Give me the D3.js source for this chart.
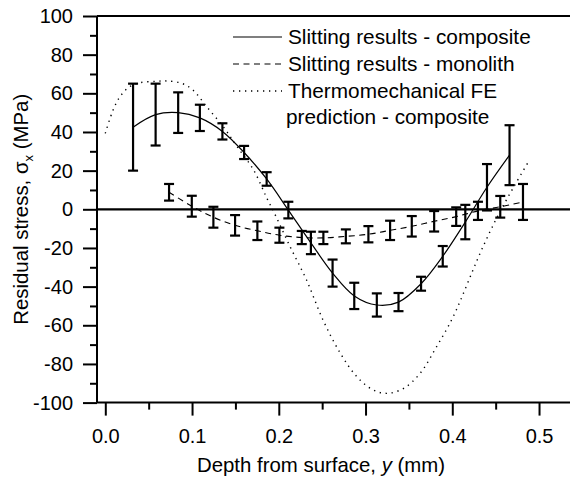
<!DOCTYPE html>
<html>
<head>
<meta charset="utf-8">
<script src="https://cdn.jsdelivr.net/npm/d3@7"></script>
<style>
  html, body { margin: 0; padding: 0; background: #fff; }
  svg { display: block; }
  text { font-family: "Liberation Sans", Arial, sans-serif; fill: #000; }
</style>
</head>
<body>
<svg id="chart" width="570" height="481"></svg>
<script>
// ---- Data ----
const compositeDepth = [0.032, 0.058, 0.084, 0.109, 0.135, 0.160, 0.186, 0.211, 0.237, 0.262, 0.287, 0.313, 0.338, 0.364, 0.389, 0.415, 0.440, 0.466];
const compositeStress = [42.5, 49, 50, 47.3, 40.3, 29.4, 15.7, -0.4, -17.4, -33, -44.8, -49.5, -48, -38.5, -24.3, -6.6, 11.4, 28];
const compositeError = [22.5, 16, 10.5, 6.8, 4.2, 3.4, 3.5, 4.3, 5.8, 7, 6.8, 6, 4.7, 3.6, 5.3, 8.9, 12, 15.5];

const monolithDepth = [0.0735, 0.0997, 0.1246, 0.1496, 0.1753, 0.2007, 0.2265, 0.2514, 0.2773, 0.3033, 0.3283, 0.3533, 0.3791, 0.4045, 0.4296, 0.4553, 0.4815];
const monolithStress = [8.8, 1.6, -4.1, -8.3, -11.1, -13.4, -14.6, -14.8, -14, -12.9, -10.9, -8.8, -6.2, -3.8, -0.8, 1.3, 3.8];
const monolithError = [4.3, 5.4, 5.4, 5.3, 4.8, 3.9, 3.4, 3.2, 3.6, 4.2, 5, 5.3, 5.3, 4.8, 4.7, 5.6, 9.3];

const feDepth = [0, 0.009, 0.017, 0.027, 0.040, 0.059, 0.071, 0.088, 0.101, 0.117, 0.136, 0.152, 0.171, 0.186, 0.196, 0.213, 0.232, 0.251, 0.271, 0.290, 0.309, 0.325, 0.344, 0.363, 0.382, 0.401, 0.432, 0.452, 0.471, 0.489];
const feStress = [39.3, 51.4, 58.3, 63.1, 65.5, 66.2, 66.4, 65.2, 61.7, 53, 42.7, 32.4, 20.3, 6, -3, -19.3, -36.6, -57.3, -74.5, -86.6, -93.5, -95.2, -92.6, -84.8, -71, -55.6, -22.8, -3.8, 11.7, 25.5];

const xMajorTicks = [0, 0.1, 0.2, 0.3, 0.4, 0.5];
const xMinorTicks = [0.05, 0.15, 0.25, 0.35, 0.45];
const yMajorTicks = [-100, -80, -60, -40, -20, 0, 20, 40, 60, 80, 100];
const yMinorTicks = [-90, -70, -50, -30, -10, 10, 30, 50, 70, 90];
const xTickLabels = ["0.0", "0.1", "0.2", "0.3", "0.4", "0.5"];
const yTickLabels = ["-100", "-80", "-60", "-40", "-20", "0", "20", "40", "60", "80", "100"];

const legendLabels = ["Slitting results - composite", "Slitting results - monolith", "Thermomechanical FE", "prediction - composite"];

// ---- Layout ----
const svg = d3.select("#chart");
const pLeft = 97, pRight = 570, pTop = 16, pBottom = 402.6;
const x = d3.scaleLinear().domain([-0.00957, 0.5357]).range([pLeft, pRight]);
const y = d3.scaleLinear().domain([-100, 100]).range([pBottom, pTop]);
const FS = 20, FS_LEG = 20.8, FS_TITLE = 20.4;

// Zero line
svg.append("line").attr("x1", pLeft).attr("x2", pRight).attr("y1", y(0)).attr("y2", y(0))
  .attr("stroke", "#000").attr("stroke-width", 2.2);

// Top border
svg.append("line").attr("x1", pLeft).attr("x2", pRight).attr("y1", pTop).attr("y2", pTop)
  .attr("stroke", "#000").attr("stroke-width", 2);

// Y axis
const yMinor = d3.axisLeft(y).tickValues(yMinorTicks).tickSize(7).tickFormat("");
const yMajor = d3.axisLeft(y).tickValues(yMajorTicks).tickSize(14).tickPadding(10)
  .tickFormat((d, i) => yTickLabels[i]);
const gyMinor = svg.append("g").attr("transform", `translate(${pLeft},0)`).call(yMinor);
const gyMajor = svg.append("g").attr("transform", `translate(${pLeft},0)`).call(yMajor);
// X axis
const xMinor = d3.axisBottom(x).tickValues(xMinorTicks).tickSize(7).tickFormat("");
const xMajor = d3.axisBottom(x).tickValues(xMajorTicks).tickSize(13).tickPadding(13)
  .tickFormat((d, i) => xTickLabels[i]);
const gxMinor = svg.append("g").attr("transform", `translate(0,${pBottom})`).call(xMinor);
const gxMajor = svg.append("g").attr("transform", `translate(0,${pBottom})`).call(xMajor);

[gyMinor, gyMajor, gxMinor, gxMajor].forEach(g => {
  g.select(".domain").attr("stroke", "#000").attr("stroke-width", 2);
  g.selectAll(".tick line").attr("stroke", "#000").attr("stroke-width", 2);
  g.selectAll(".tick text").attr("font-size", FS).attr("font-family", "Liberation Sans, Arial, sans-serif").attr("fill", "#000");
});
gyMinor.select(".domain").remove();
gxMinor.select(".domain").remove();
gyMajor.select(".domain").attr("d", `M0,${pTop}V${pBottom}`);
gxMajor.select(".domain").attr("d", `M${pLeft},0H${pRight}`);

// ---- Series ----
const line = d3.line().x(d => x(d[0])).y(d => y(d[1])).curve(d3.curveCatmullRom.alpha(0.5));

const feData = feDepth.map((d, i) => [d, feStress[i]]);
svg.append("path").attr("d", line(feData)).attr("fill", "none")
  .attr("stroke", "#000").attr("stroke-width", 1.4).attr("stroke-dasharray", "1.3,4.7");

const monoData = monolithDepth.map((d, i) => [d, monolithStress[i]]);
svg.append("path").attr("d", line(monoData)).attr("fill", "none")
  .attr("stroke", "#000").attr("stroke-width", 1.1).attr("stroke-dasharray", "6,4.5");

const compData = compositeDepth.map((d, i) => [d, compositeStress[i]]);
svg.append("path").attr("d", line(compData)).attr("fill", "none")
  .attr("stroke", "#000").attr("stroke-width", 1.2);

function errorBars(depth, stress, err) {
  const g = svg.append("g").attr("stroke", "#000").attr("stroke-width", 2.2).attr("fill", "none");
  depth.forEach((d, i) => {
    const cx = x(d), y1 = y(stress[i] + err[i]), y2 = y(stress[i] - err[i]);
    g.append("line").attr("x1", cx).attr("x2", cx).attr("y1", y1).attr("y2", y2);
    g.append("line").attr("x1", cx - 5).attr("x2", cx + 5).attr("y1", y1).attr("y2", y1);
    g.append("line").attr("x1", cx - 5).attr("x2", cx + 5).attr("y1", y2).attr("y2", y2);
  });
}
errorBars(compositeDepth, compositeStress, compositeError);
errorBars(monolithDepth, monolithStress, monolithError);

// ---- Legend ----
const lg = svg.append("g");
const legStyles = [
  {dash: null, w: 1.2},
  {dash: "6,4.5", w: 1.1},
  {dash: "1.3,4.7", w: 1.4}
];
const rowBase = [44, 71, 98, 124];
legStyles.forEach((s, i) => {
  const l = lg.append("line").attr("x1", 233).attr("x2", 282)
    .attr("y1", rowBase[i] - 7).attr("y2", rowBase[i] - 7)
    .attr("stroke", "#000").attr("stroke-width", s.w);
  if (s.dash) l.attr("stroke-dasharray", s.dash);
});
legendLabels.forEach((t, i) => {
  lg.append("text").attr("x", i === 3 ? 286 : 288).attr("y", rowBase[i])
    .attr("font-size", FS_LEG).text(t);
});

// ---- Axis titles ----
const xt = svg.append("text").attr("x", 321).attr("y", 472).attr("text-anchor", "middle").attr("font-size", FS_TITLE);
xt.append("tspan").text("Depth from surface, ");
xt.append("tspan").attr("font-style", "italic").text("y");
xt.append("tspan").text(" (mm)");

const yt = svg.append("text").attr("transform", `translate(28,${(pTop + pBottom) / 2}) rotate(-90)`)
  .attr("text-anchor", "middle").attr("font-size", FS_TITLE);
yt.append("tspan").text("Residual stress, \u03C3");
yt.append("tspan").attr("font-size", 13).attr("dy", 5).text("x");
yt.append("tspan").attr("dy", -5).text(" (MPa)");
</script>
</body>
</html>
